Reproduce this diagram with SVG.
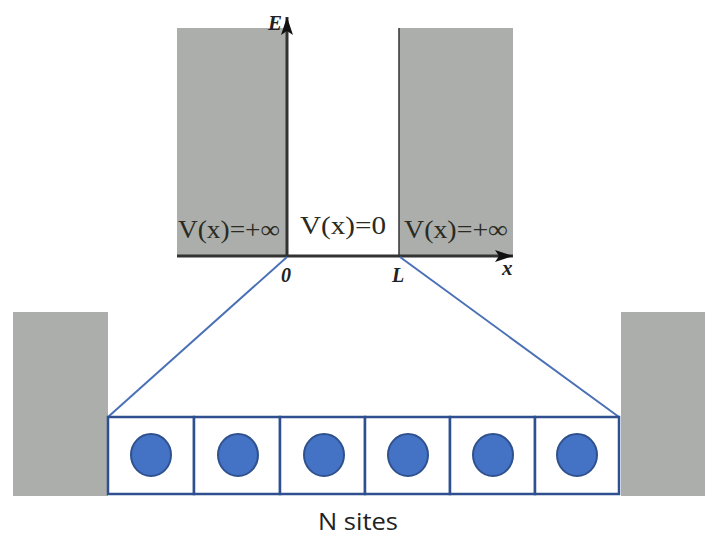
<svg xmlns="http://www.w3.org/2000/svg" width="705" height="543" viewBox="0 0 705 543">
<style>
.wall{fill:#abaeaa}
.axis{stroke:#333;stroke-width:3;fill:none}
.thin{stroke:#333;stroke-width:1.5}
.lbl{font-family:"Liberation Serif","DejaVu Serif",serif;font-size:25px;fill:#2a2a22}
.it{font-family:"Liberation Serif","DejaVu Serif",serif;font-style:italic;font-weight:bold;fill:#222}
.link{stroke:#4a70b5;stroke-width:2;fill:none}
.cell{fill:#fff;stroke:#2f4f8f;stroke-width:2.5}
.atom{fill:#4472c4;stroke:#2f528f;stroke-width:2}
.cap{font-family:"Open Sans","Liberation Sans",sans-serif;font-size:23px;fill:#222}
</style>
<defs>
<marker id="ah2" viewBox="0 0 18 12" refX="18" refY="6" markerWidth="18" markerHeight="12" markerUnits="userSpaceOnUse" orient="auto"><path d="M0,0 L18,6 L0,12 L4,6 Z" fill="#111"/></marker>
</defs>
<g id="well">
<rect class="wall" x="177" y="28" width="110" height="228"/>
<rect class="wall" x="399" y="28" width="114" height="228"/>
<line class="thin" x1="399" y1="28" x2="399" y2="256"/>
<text class="lbl" x="178" y="238" textLength="102" lengthAdjust="spacingAndGlyphs">V(x)=+∞</text>
<text class="lbl" x="300" y="234" textLength="86" lengthAdjust="spacingAndGlyphs">V(x)=0</text>
<text class="lbl" x="404" y="238" textLength="104" lengthAdjust="spacingAndGlyphs">V(x)=+∞</text>
</g>
<g id="axes">
<line class="axis" x1="287" y1="257" x2="287" y2="17" marker-end="url(#ah2)"/>
<line class="axis" x1="177" y1="256" x2="513" y2="256" marker-end="url(#ah2)"/>
<text class="it" x="268" y="30" style="font-size:21px">E</text>
<text class="it" x="502" y="275" style="font-size:21px">x</text>
<text class="it" x="281" y="282" style="font-size:20px">0</text>
<text class="it" x="392" y="282" style="font-size:20px">L</text>
</g>
<g id="connectors">
<line class="link" x1="287" y1="257" x2="108" y2="417"/>
<line class="link" x1="400" y1="257" x2="619" y2="417"/>
</g>
<g id="walls-bottom">
<rect class="wall" x="13" y="312" width="95" height="184"/>
<rect class="wall" x="621" y="312" width="84" height="184"/>
</g>
<g id="sites">
<rect class="cell" x="108" y="417" width="86" height="77"/>
<rect class="cell" x="194" y="417" width="86" height="77"/>
<rect class="cell" x="280" y="417" width="85" height="77"/>
<rect class="cell" x="365" y="417" width="85" height="77"/>
<rect class="cell" x="450" y="417" width="85" height="77"/>
<rect class="cell" x="535" y="417" width="84" height="77"/>
<ellipse class="atom" cx="151" cy="455" rx="20" ry="21"/>
<ellipse class="atom" cx="238" cy="455" rx="20" ry="21"/>
<ellipse class="atom" cx="324" cy="455" rx="20" ry="21"/>
<ellipse class="atom" cx="408" cy="455" rx="20" ry="21"/>
<ellipse class="atom" cx="493" cy="455" rx="20" ry="21"/>
<ellipse class="atom" cx="577" cy="455" rx="20" ry="21"/>
</g>
<g id="caption">
<text class="cap" x="358" y="530" text-anchor="middle" textLength="80" lengthAdjust="spacingAndGlyphs">N sites</text>
</g>
</svg>
